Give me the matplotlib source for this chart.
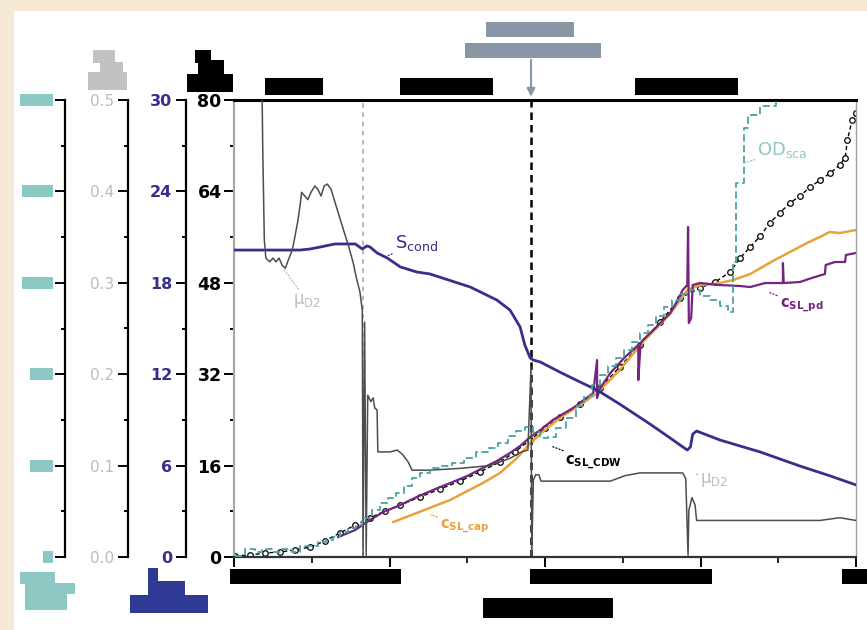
import matplotlib
matplotlib.use("Agg")
import matplotlib.pyplot as plt
from matplotlib.patches import Rectangle
from matplotlib.ticker import MultipleLocator, NullFormatter
from matplotlib.transforms import blended_transform_factory

# ---------------------------------------------------------------
# data (x in the figure's own, redacted unit)
# ---------------------------------------------------------------
# S_cond, blue axis (0..30)
s_x = [0.00, 0.85, 0.98, 1.11, 1.30, 1.56, 1.65, 1.71, 1.75, 1.84, 1.97, 2.14,
       2.35, 2.52, 3.04, 3.38, 3.55, 3.68, 3.74, 3.81, 3.85, 3.94, 4.19, 4.45,
       4.67, 4.96, 5.35, 5.61, 5.83, 5.87, 5.90, 5.95, 6.25, 6.77, 7.28, 7.67, 8.00]
s_cond = [20.15, 20.15, 20.22, 20.35, 20.55, 20.55, 20.22, 20.42, 20.35, 19.96,
          19.63, 19.04, 18.71, 18.58, 17.72, 16.87, 16.21, 15.10, 13.92, 13.06,
          12.93, 12.80, 12.14, 11.49, 10.96, 10.04, 8.73, 7.81, 7.02, 7.22, 8.07,
          8.27, 7.68, 6.89, 5.97, 5.32, 4.73]

# mu_D2, grey axis (0..0.5)
mu_x = [0.36, 0.37, 0.39, 0.41, 0.46, 0.50, 0.54, 0.58, 0.62, 0.66, 0.69, 0.75,
        0.78, 0.82, 0.85, 0.87, 0.91, 0.95, 0.99, 1.04, 1.08, 1.12, 1.16, 1.20,
        1.25, 1.31, 1.39, 1.47, 1.53, 1.58, 1.62, 1.65, 1.66, 1.68, 1.70, 1.72,
        1.76, 1.79, 1.81, 1.84, 1.85, 2.01, 2.10, 2.17, 2.24, 2.29, 2.52, 2.91,
        3.29, 3.55, 3.70, 3.78, 3.82, 3.83, 3.85, 3.88, 3.92, 3.95, 4.32, 4.84,
        5.03, 5.22, 5.77, 5.81, 5.84, 5.85, 5.89, 5.93, 5.95, 7.02, 7.54, 7.79, 8.00]
mu_d2 = [0.516, 0.445, 0.347, 0.327, 0.323, 0.327, 0.323, 0.327, 0.319, 0.316,
         0.323, 0.336, 0.349, 0.367, 0.385, 0.399, 0.395, 0.391, 0.399, 0.406,
         0.402, 0.395, 0.406, 0.408, 0.402, 0.385, 0.363, 0.341, 0.323, 0.303,
         0.290, 0.270, 0.002, 0.257, 0.002, 0.177, 0.170, 0.174, 0.163, 0.161,
         0.115, 0.115, 0.117, 0.112, 0.104, 0.095, 0.095, 0.097, 0.100, 0.108,
         0.115, 0.117, 0.208, 0.002, 0.084, 0.090, 0.090, 0.083, 0.083, 0.083,
         0.089, 0.092, 0.092, 0.086, 0.002, 0.051, 0.065, 0.057, 0.040, 0.040,
         0.040, 0.043, 0.040]

# OD, teal axis (0..5, labels redacted)
od_x = [0.01, 0.14, 0.27, 0.36, 0.49, 0.62, 0.75, 0.85, 0.98, 1.08, 1.18, 1.27,
        1.36, 1.47, 1.57, 1.65, 1.77, 1.88, 1.98, 2.08, 2.19, 2.29, 2.39, 2.52,
        2.65, 2.80, 2.96, 3.11, 3.27, 3.40, 3.52, 3.63, 3.74, 3.85, 3.94, 4.04,
        4.14, 4.27, 4.40, 4.50, 4.60, 4.71, 4.81, 4.91, 5.02, 5.12, 5.22, 5.32,
        5.43, 5.53, 5.63, 5.74, 5.86, 5.99, 6.12, 6.25, 6.35, 6.42, 6.46, 6.53,
        6.56, 6.61, 6.71, 6.77, 6.89, 6.97]
od = [0.01, 0.09, 0.05, 0.09, 0.05, 0.09, 0.05, 0.12, 0.12, 0.16, 0.19, 0.22,
      0.27, 0.32, 0.35, 0.43, 0.51, 0.59, 0.65, 0.70, 0.78, 0.86, 0.92, 0.97,
      1.00, 1.03, 1.08, 1.15, 1.19, 1.25, 1.32, 1.38, 1.42, 1.37, 1.30, 1.31,
      1.41, 1.52, 1.65, 1.76, 1.88, 1.99, 2.09, 2.18, 2.26, 2.35, 2.45, 2.54,
      2.64, 2.74, 2.81, 2.88, 2.92, 2.86, 2.81, 2.75, 2.68, 3.23, 4.09, 4.09,
      4.69, 4.84, 4.84, 4.93, 4.93, 5.05]

# c_SL series, black axis (0..80)
pd_x = [1.34, 1.56, 1.75, 1.92, 2.14, 2.35, 2.56, 2.78, 3.00, 3.20, 3.38, 3.55,
        3.68, 3.81, 3.94, 4.10, 4.36, 4.62, 4.67, 4.67, 4.71, 4.84, 5.03, 5.20,
        5.20, 5.23, 5.26, 5.42, 5.61, 5.71, 5.77, 5.83, 5.84, 5.85, 5.88, 5.90,
        5.99, 6.25, 6.51, 6.64, 6.83, 7.06, 7.06, 7.07, 7.28, 7.43, 7.60, 7.61,
        7.73, 7.86, 7.87, 8.00]
c_pd = [3.50, 4.73, 6.48, 7.88, 9.10, 10.50, 11.73, 12.95, 14.18, 15.58, 16.80,
        18.21, 19.43, 21.01, 22.23, 23.98, 26.08, 28.71, 34.48, 27.83, 29.58,
        32.21, 35.01, 37.11, 30.98, 37.46, 37.99, 40.09, 42.71, 44.99, 46.74,
        47.61, 57.77, 40.96, 41.84, 47.61, 47.96, 47.61, 47.44, 47.26, 47.96,
        47.96, 51.46, 47.96, 48.14, 48.84, 49.54, 51.11, 51.64, 51.64, 52.87, 53.22]

cap_x = [2.05, 2.35, 2.78, 3.20, 3.42, 3.64, 3.81, 4.00, 4.19, 4.45, 4.67, 4.96,
         5.26, 5.61, 5.83, 5.99, 6.19, 6.42, 6.64, 6.93, 7.15, 7.37, 7.56, 7.66,
         7.79, 8.00]
c_cap = [6.13, 7.70, 9.98, 12.95, 14.70, 17.33, 19.96, 22.23, 24.33, 26.61,
         28.71, 32.73, 37.64, 42.54, 46.74, 47.61, 47.79, 48.49, 49.54, 51.81,
         53.39, 54.97, 56.19, 56.89, 56.72, 57.24]

cdw_x = [0.01, 0.21, 0.40, 0.59, 0.78, 0.98, 1.17, 1.36, 1.56, 1.75, 1.94, 2.14,
         2.39, 2.65, 2.91, 3.16, 3.42, 3.61, 3.81, 4.00, 4.19, 4.45, 4.71, 4.96,
         5.22, 5.48, 5.74, 5.99, 6.19, 6.38, 6.51, 6.64, 6.77, 6.89, 7.02, 7.15,
         7.28, 7.41, 7.54, 7.67, 7.79, 7.86, 7.89, 7.95, 8.00]
c_cdw = [0.18, 0.35, 0.70, 0.88, 1.23, 1.75, 2.80, 4.20, 5.60, 6.83, 8.05, 9.10,
         10.50, 11.90, 13.30, 14.88, 16.63, 18.38, 20.48, 22.58, 24.51, 26.78,
         29.58, 33.26, 37.11, 41.14, 45.34, 47.09, 48.14, 49.89, 52.34, 54.27,
         56.19, 58.47, 60.22, 61.97, 63.19, 64.77, 65.99, 67.22, 68.62, 69.84,
         72.99, 76.50, 77.72]

x_onset = 1.66     # grey dashed marker
x_event = 3.82     # black dashed marker (arrow target)

main_ticks = [0, 16, 32, 48, 64, 80]
blue_ticks = [0, 6, 12, 18, 24, 30]
grey_ticks = [0.0, 0.1, 0.2, 0.3, 0.4, 0.5]
teal_ticks = [0, 1, 2, 3, 4, 5]

# colours
NAVY = '#35308c'
PURPLE = '#74237f'
ORANGE = '#e8a23a'
TEAL = '#4aa3a3'
TEAL_LIGHT = '#8ec8c4'
GREY_TXT = '#bcbcbc'
MU = '#4d4d4d'
BEIGE = '#f5e9d5'
SLATE = '#8896a6'

W, H = 867, 630
plt.rcParams['font.family'] = 'DejaVu Sans'
plt.rcParams['mathtext.default'] = 'regular'


def block(fig, x0, y0, x1, y1, color, z=5):
    """Filled box given in image pixels (origin top left)."""
    fig.add_artist(Rectangle((x0 / W, 1 - y1 / H), (x1 - x0) / W, (y1 - y0) / H,
                             transform=fig.transFigure, facecolor=color,
                             edgecolor='none', zorder=z))


def side_axis(host, offset, lim, ticks, minor, labels, color, bold, size):
    """Extra y axis drawn as a spine to the left of the host."""
    a = host.twinx()
    a.set_ylim(*lim)
    for s in ('right', 'top', 'bottom'):
        a.spines[s].set_visible(False)
    a.spines['left'].set_visible(True)
    a.spines['left'].set_position(('axes', offset))
    a.spines['left'].set_linewidth(1.6)
    a.yaxis.set_ticks_position('left')
    a.yaxis.set_label_position('left')
    a.set_yticks(ticks)
    a.set_yticklabels(labels, color=color, fontsize=size,
                      fontweight='bold' if bold else 'normal')
    a.yaxis.set_minor_locator(MultipleLocator(minor))
    a.tick_params(axis='y', which='major', length=7, width=1.4, pad=3)
    a.tick_params(axis='y', which='minor', length=3, width=1.4)
    return a


fig = plt.figure(figsize=(W / 100, H / 100), dpi=100)
fig.patch.set_facecolor('white')

# beige frame of the screenshot
block(fig, 0, 0, W, 11, BEIGE, z=-2)
block(fig, 0, 0, 14, H, BEIGE, z=-2)

ax = fig.add_axes([234 / W, 1 - 557 / H, 622 / W, 457 / H])
ax.set_xlim(0, 8)
ax.set_ylim(0, 80)
ax.set_yticks(main_ticks)
ax.set_yticklabels([str(t) for t in main_ticks], fontweight='bold', fontsize=12.5)
ax.yaxis.set_minor_locator(MultipleLocator(8))
ax.set_xticks([0, 2, 4, 6, 8])
ax.set_xticks([1, 3, 5, 7], minor=True)
ax.xaxis.set_major_formatter(NullFormatter())
ax.tick_params(axis='y', which='major', length=7, width=1.4, pad=2)
ax.tick_params(axis='y', which='minor', length=3, width=1.4)
ax.tick_params(axis='x', which='major', length=7, width=1.4)
ax.tick_params(axis='x', which='minor', length=4, width=1.2)
ax.spines['left'].set_color('#a8a8a8')
ax.spines['left'].set_linewidth(1.6)
ax.spines['right'].set_color('#a0a0a0')
ax.spines['right'].set_linewidth(1.0)
ax.spines['top'].set_linewidth(2.2)
ax.spines['bottom'].set_color('#333333')
ax.spines['bottom'].set_linewidth(1.6)

ax_blue = side_axis(ax, -48 / 622, (0, 30), blue_ticks, 3,
                    [str(t) for t in blue_ticks], NAVY, True, 11.5)
ax_grey = side_axis(ax, -106 / 622, (0, 0.5), grey_ticks, 0.05,
                    ['%.1f' % t for t in grey_ticks], GREY_TXT, False, 11)
ax_teal = side_axis(ax, -169 / 622, (0, 5), teal_ticks, 0.5,
                    ['' for t in teal_ticks], TEAL, False, 11)

# marker lines
ax.axvline(x_onset, color='#a5a5a5', lw=1.1, ls=(0, (3, 3)), zorder=1)
ax.axvline(x_event, color='black', lw=1.8, ls=(0, (3, 2)), zorder=1)

# curves
ax_grey.plot(mu_x, mu_d2, color=MU, lw=1.1)
ax.plot(cdw_x, c_cdw, color='black', lw=1.0, ls=(0, (3, 2)), marker='o',
        ms=4.0, mfc='white', mec='black', mew=0.9)
ax.plot(cap_x, c_cap, color=ORANGE, lw=1.8)
ax.plot(pd_x, c_pd, color=PURPLE, lw=1.6)
ax_teal.plot(od_x, od, color=TEAL, lw=1.3, ls=(0, (4, 2)), drawstyle='steps-post')
ax_blue.plot(s_x, s_cond, color=NAVY, lw=2.0)

# curve labels with short leader lines
notes = [
    (r'$S_{cond}$', (2.07, 55.0), (1.94, 52.5), NAVY, 13, 'normal'),
    (r'$\mu_{D2}$', (0.76, 44.8), (0.63, 50.6), GREY_TXT, 12, 'normal'),
    (r'$\mu_{D2}$', (6.00, 13.4), (5.93, 14.6), GREY_TXT, 12, 'normal'),
    (r'$OD_{sca}$', (6.73, 71.2), (6.57, 69.0), TEAL_LIGHT, 13, 'normal'),
    (r'$c_{SL\_cap}$', (2.65, 5.3), (2.53, 7.4), ORANGE, 10.5, 'bold'),
    (r'$c_{SL\_CDW}$', (4.26, 16.6), (4.10, 19.3), 'black', 10.5, 'bold'),
    (r'$c_{SL\_pd}$', (7.02, 44.0), (6.87, 46.4), PURPLE, 10.5, 'bold'),
]
for txt, pos, tip, col, size, weight in notes:
    ax.annotate(txt, xy=tip, xytext=pos, color=col, fontsize=size,
                fontweight=weight, ha='left', va='center', zorder=6,
                arrowprops=dict(arrowstyle='-', color=col, lw=0.9,
                                ls=':', shrinkA=0, shrinkB=0))

# arrow from the (redacted) top annotation
ax.annotate('', xy=(x_event, 1.007), xytext=(x_event, 1.088),
            xycoords=('data', 'axes fraction'),
            textcoords=('data', 'axes fraction'),
            arrowprops=dict(arrowstyle='-|>', color=SLATE, lw=1.5,
                            mutation_scale=12, shrinkA=0, shrinkB=0),
            annotation_clip=False)

# redacted labels (drawn as solid boxes)
block(fig, 486, 22, 574, 37, SLATE)
block(fig, 465, 43, 601, 58, SLATE)
for x0, x1 in [(265, 323), (400, 493), (635, 738)]:
    block(fig, x0, 78, x1, 95, 'black')
for x0, y0, x1, y1 in [(230, 569, 401, 584), (530, 569, 712, 584),
                       (842, 569, 867, 584), (483, 598, 613, 618)]:
    block(fig, x0, y0, x1, y1, 'black')

# y-axis titles
for x0, y0, x1, y1 in [(195, 50, 211, 63), (198, 60, 224, 76), (187, 74, 233, 92)]:
    block(fig, x0, y0, x1, y1, 'black')
for x0, y0, x1, y1 in [(93, 50, 115, 63), (100, 62, 123, 73), (88, 72, 127, 90)]:
    block(fig, x0, y0, x1, y1, '#c2c2c2')
for x0, y0, x1, y1 in [(20, 572, 55, 584), (25, 583, 75, 594), (25, 593, 67, 610)]:
    block(fig, x0, y0, x1, y1, TEAL_LIGHT)
for x0, y0, x1, y1 in [(148, 568, 158, 582), (148, 581, 185, 596), (130, 595, 208, 613)]:
    block(fig, x0, y0, x1, y1, '#2f3a95')

# teal tick labels are redacted too: boxes at each tick
teal_tr = blended_transform_factory(fig.transFigure, ax_teal.transData)
box_left = [43, 30, 30, 22, 22, 20]
for t, x0 in zip(teal_ticks, box_left):
    fig.add_artist(Rectangle((x0 / W, t - 0.065), (53 - x0) / W, 0.13,
                             transform=teal_tr, facecolor=TEAL_LIGHT,
                             edgecolor='none', zorder=5, clip_on=False))

fig.savefig('out.png', dpi=100)
